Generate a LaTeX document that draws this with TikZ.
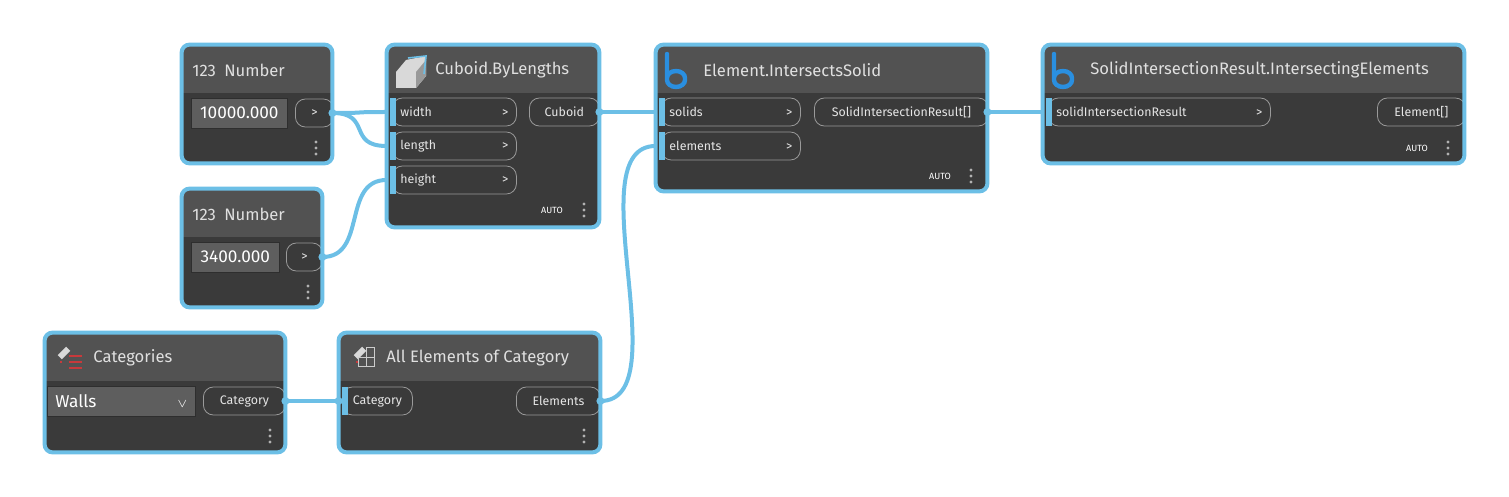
\documentclass[tikz,border=0pt]{standalone}
\usepackage{fontspec}
\setmainfont{Fira Sans}
\usetikzlibrary{positioning}
\usetikzlibrary{fit}
\definecolor{wire}{HTML}{6CBFE6}
\definecolor{headgray}{HTML}{525252}
\definecolor{bodygray}{HTML}{3A3A3A}
\definecolor{fieldgray}{HTML}{5E5E5E}
\definecolor{portline}{HTML}{9A9A9A}
\definecolor{dynblue}{HTML}{2A8FE0}
\definecolor{catred}{HTML}{C8393B}

\begin{document}
\begin{tikzpicture}[x=0.5pt, y=-0.5pt,
                          frame/.style={fill=bodygray, rounded corners=4pt, inner sep=0pt},
                          border/.style={draw=wire, line width=2pt, rounded corners=4pt},
                          title/.style={anchor=west, text=white!88!black, font=\fontsize{8.3}{9}\selectfont, inner sep=0pt},
                          port/.style={draw=portline, line width=0.4pt, rounded corners=5pt, minimum height=14pt, text=white!90!black, font=\fontsize{6.2}{7}\selectfont, anchor=west, inner xsep=4pt, inner ysep=0pt},
                          inport/.style={port, text width=#1, align=left, inner xsep=4pt, xshift=1pt},
                          field/.style={fill=fieldgray, draw=bodygray!80!black, minimum height=15pt, anchor=west, text=white, font=\fontsize{8.6}{9}\selectfont, inner sep=2pt},
                          marker/.style={fill=wire, minimum width=3pt, minimum height=14pt, inner sep=0pt, anchor=west},
                          small/.style={text=white, font=\fontsize{4.5}{5}\selectfont, inner sep=0pt},
                          wirepath/.style={draw=wire, line width=2pt},
                          dot/.style={fill=wire, circle, inner sep=0pt, minimum size=4pt},
                      ]
                      \useasboundingbox (0,0) rectangle (1509,497);
                      % Frames
                      \node[frame, fit={(182,45)(332,163)}] (num1) {};
                      \node[frame, fit={(182,189)(322,307)}] (num2) {};
                      \node[frame, fit={(387,45)(599,227)}] (cub) {};
                      \node[frame, fit={(656,45)(987,191)}] (ele) {};
                      \node[frame, fit={(1043,45)(1464,163)}] (sir) {};
                      \node[frame, fit={(45,333)(285,452)}] (cat) {};
                      \node[frame, fit={(339,333)(600,452)}] (all) {};
                      % Headers
                      \foreach \n/\hy in {num1/93, num2/237, cub/93, ele/93, sir/93, cat/381, all/381} {
                        \fill[headgray, rounded corners=4pt] (\n.north west) rectangle (\n.east |- 0,\hy+8);
                        \fill[bodygray] (\n.west |- 0,\hy) rectangle (\n.east |- 0,\hy+10);
                      }
                      % Titles
                      \node[title] (num1_t) at (192,70) {123\enspace Number};
                      \node[title] (num2_t) at (192,214) {123\enspace Number};
                      \node[title] (cub_t) at (435,70) {Cuboid.ByLengths};
                      \node[title] (ele_t) at (703,70) {Element.IntersectsSolid};
                      \node[title] (sir_t) at (1090,70) {SolidIntersectionResult.IntersectingElements};
                      \node[title] (cat_t) at (93,358) {Categories};
                      \node[title] (all_t) at (386,358) {All Elements of Category};
                      % Icons
                      \fill[white!85!black] (396,72) -- (406,60) -- (426,56) -- (426,76) -- (416,88) -- (396,88) -- cycle;
                      \fill[white!60!black] (416,72) -- (426,60) -- (426,76) -- (416,88) -- cycle;
                      \draw[wire, line width=0.8pt] (408,58) -- (426,56) -- (424,74);
                      \foreach \bx in {667,1054} {
                        \draw[dynblue, line width=2.2pt, line cap=round] (\bx,54) -- (\bx,80) arc[start angle=180, end angle=360, x radius=9, y radius=-7] -- ++(0,-2) arc[start angle=0, end angle=180, x radius=9, y radius=-7];
                      }
                      \foreach \ix/\iy in {58/347, 354/347} {
                        \fill[white!85!black, rotate around={45:(\ix+6,\iy+6)}] (\ix,\iy+3) rectangle (\ix+12,\iy+9);
                        \fill[catred] (\ix+2,\iy+14) rectangle (\ix+4,\iy+16);
                      }
                      \foreach \yy in {355,361,367} \fill[catred] (69,\yy) rectangle (82,\yy+2);
                      \draw[white!80!black, line width=0.5pt] (358,357) rectangle (374,366) (366,347) rectangle (374,366);
                      % Fields
                      \node[field, minimum width=48pt] (num1_f) at (191,113) {10000.000};
                      \node[field, minimum width=44pt] (num2_f) at (191,257) {3400.000};
                      \node[field, minimum width=74pt, text width=66pt, align=left] (cat_f) at (47,401) {Walls\hfill{\fontsize{6}{6}\selectfont$\vee$}};
                      % Ports
                      \node[port, minimum width=19pt] (num1_o) at (295,113) {>};
                      \node[port, minimum width=18pt] (num2_o) at (286,257) {>};
                      \node[inport=54pt] (cub_w) at (390,112) {width\hfill>};
                      \node[inport=54pt] (cub_l) at (390,146) {length\hfill>};
                      \node[inport=54pt] (cub_h) at (390,180) {height\hfill>};
                      \node[port, minimum width=35pt] (cub_o) at (529,112) {Cuboid};
                      \node[inport=61.5pt] (ele_s) at (659,112) {solids\hfill>};
                      \node[inport=61.5pt] (ele_e) at (659,146) {elements\hfill>};
                      \node[port, minimum width=87pt] (ele_o) at (814,112) {SolidIntersectionResult[]};
                      \node[inport=103pt] (sir_i) at (1046,112) {solidIntersectionResult\hfill>};
                      \node[port, minimum width=44pt] (sir_o) at (1377,112) {Element[]};
                      \node[port, minimum width=41pt] (cat_o) at (203,401) {Category};
                      \node[port, minimum width=35pt] (all_i) at (342,401) {Category};
                      \node[port, minimum width=42pt] (all_o) at (516,401) {Elements};
                      % Input markers
                      \foreach \p in {cub_w, cub_l, cub_h, ele_s, ele_e, sir_i}
                        \node[marker, xshift=-1pt] at (\p.west) {};
                      \node[marker] at (all_i.west) {};
                      % Footer
                      \node[small] at (552,210) {AUTO};
                      \node[small] at (940,176) {AUTO};
                      \node[small] at (1417,148) {AUTO};
                      \foreach \dx/\dy in {316/148, 308/292, 584/210, 971/176, 1448/148, 270/436, 584/436}
                        \foreach \k in {-6,0,6} \fill[white!70!black] (\dx,\dy+\k) circle (0.8pt);
                      % Borders
                      \foreach \n in {num1, num2, cub, ele, sir, cat, all}
                        \draw[border] (\n.north west) rectangle (\n.south east);
                      %Lines
                      \draw[wirepath] (num1.east |- num1_o) .. controls +(40,0) and +(-40,0) .. (cub.west |- cub_w);
                      \draw[wirepath] (num1.east |- num1_o) .. controls +(40,0) and +(-40,0) .. (cub.west |- cub_l);
                      \draw[wirepath] (num2.east |- num2_o) .. controls +(45,0) and +(-45,0) .. (cub.west |- cub_h);
                      \draw[wirepath] (cub.east |- cub_o) .. controls +(30,0) and +(-30,0) .. (ele.west |- ele_s);
                      \draw[wirepath] (all.east |- all_o) .. controls +(80,0) and +(-80,0) .. (ele.west |- ele_e);
                      \draw[wirepath] (ele.east |- ele_o) .. controls +(30,0) and +(-30,0) .. (sir.west |- sir_i);
                      \draw[wirepath] (cat.east |- cat_o) .. controls +(30,0) and +(-30,0) .. (all.west |- all_i);
                      \node[dot] at (num1.east |- num1_o) {};
                      \node[dot] at (num2.east |- num2_o) {};
                      \node[dot] at (cub.east |- cub_o) {};
                      \node[dot] at (ele.east |- ele_o) {};
                      \node[dot] at (cat.east |- cat_o) {};
                      \node[dot] at (all.east |- all_o) {};
                      \node[dot] at (all.west |- all_i) {};
                  \end{tikzpicture}
\end{document}
